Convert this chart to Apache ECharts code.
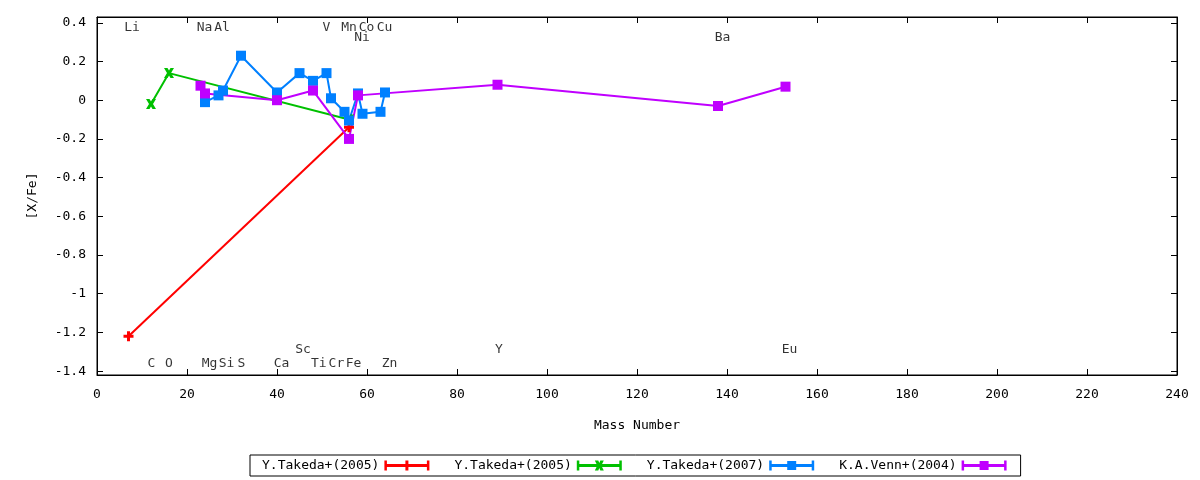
<!DOCTYPE html>
<html>
<head>
<meta charset="utf-8">
<script src="https://cdn.jsdelivr.net/npm/echarts@6/dist/echarts.min.js"></script>
<style>
    html, body { margin: 0; padding: 0; background: #fff; }
    #main { width: 1200px; height: 480px; }
</style>
</head>
<body>
<div id="main"></div>
<script>
// series values: [mass number, [X/Fe]]
var takeda2005a = [[7, -1.22], [56, -0.14]];
var takeda2005b = [[12, -0.02], [16, 0.14], [56, -0.10]];
var takeda2007 = [[24, -0.01], [27, 0.025], [28, 0.05], [32, 0.23], [40, 0.04], [45, 0.14],
    [48, 0.10], [51, 0.14], [52, 0.01], [55, -0.06], [56, -0.105], [58, 0.035],
    [59, -0.07], [63, -0.06], [64, 0.04]];
var venn2004 = [[23, 0.075], [24, 0.035], [40, 0.0], [48, 0.05], [56, -0.20], [58, 0.025],
    [89, 0.08], [138, -0.03], [153, 0.07]];

var seriesNames = ['Y.Takeda+(2005)', 'Y.Takeda+(2005)', 'Y.Takeda+(2007)', 'K.A.Venn+(2004)'];

// element labels
var elemNames = ['Li', 'Na', 'Al', 'V', 'Mn', 'Co', 'Cu', 'Ni', 'Ba',
    'C', 'O', 'Mg', 'Si', 'S', 'Ca', 'Ti', 'Cr', 'Fe', 'Zn', 'Sc', 'Y', 'Eu'];
var elemX = [7.8, 23.9, 27.8, 51.0, 56.0, 59.9, 63.9, 58.9, 139.0,
    12.1, 16.0, 25.0, 28.8, 32.1, 41.0, 49.3, 53.2, 57.0, 65.0, 45.8, 89.3, 153.9];
var elemY = [0.375, 0.375, 0.375, 0.375, 0.375, 0.375, 0.375, 0.323, 0.323,
    -1.361, -1.361, -1.361, -1.361, -1.361, -1.361, -1.361, -1.361, -1.361, -1.361, -1.288, -1.288, -1.288];

var yTicks = [-1.4, -1.2, -1.0, -0.8, -0.6, -0.4, -0.2, 0, 0.2, 0.4];

(function() {
    var font = 'DejaVu Sans Mono';
    var colors = ['#ff0000', '#00c000', '#0080ff', '#c000ff'];

    var plusSymbol = 'path://M3.5 0H6.5V10H3.5ZM0 3.5H10V6.5H0Z';
    var crossSymbol = 'path://M0 0H3.5L5 2.5L6.5 0H10L7 5L10 10H6.5L5 7.5L3.5 10H0L3 5Z';

    // legend samples: line with error bar caps and the marker
    var barPath = 'M0 3.5H45V6.5H0ZM0 0H2.5V10H0ZM42.5 0H45V10H42.5Z';
    var legendIcons = [
        'path://' + barPath + 'M21 0H24V10H21Z',
        'path://' + barPath + 'M18 0H21.5L22.5 2.5L23.5 0H27L24.5 5L27 10H23.5L22.5 7.5L21.5 10H18L20.5 5Z',
        'path://' + barPath + 'M18 0.5H27V9.5H18Z',
        'path://' + barPath + 'M18 0.5H27V9.5H18Z'
    ];
    var symbols = [plusSymbol, crossSymbol, 'rect', 'rect'];
    var datasets = [takeda2005a, takeda2005b, takeda2007, venn2004];

    var labelData = [];
    for (var i = 0; i < elemNames.length; i++) {
        labelData.push([elemX[i], elemY[i], elemNames[i]]);
    }

    var series = [];
    var legendData = [];
    for (var k = 0; k < datasets.length; k++) {
        // two entries share a name, so keep them apart with a suffix
        var id = seriesNames[k] + '#' + k;
        legendData.push({ name: id, icon: legendIcons[k] });
        series.push({
            name: id,
            type: 'line',
            data: datasets[k],
            symbol: symbols[k],
            symbolSize: 10,
            showAllSymbol: true,
            lineStyle: { color: colors[k], width: 2 },
            itemStyle: { color: colors[k] },
            animation: false
        });
    }
    series.push({
        name: 'labels',
        type: 'scatter',
        data: labelData,
        symbolSize: 1,
        itemStyle: { color: 'rgba(0,0,0,0)' },
        silent: true,
        label: {
            show: true,
            position: 'inside',
            formatter: function(p) { return p.value[2]; },
            color: '#000',
            fontFamily: font,
            fontSize: 13
        },
        animation: false
    });

    var tickFmt = function(v) {
        return String(Math.round(v * 10) / 10);
    };

    var dom = document.getElementById('main');
    var myChart = echarts.init(dom);
    var option = {
        backgroundColor: '#fff',
        textStyle: { fontFamily: font },
        grid: {
            left: 97,
            right: 23,
            top: 17,
            bottom: 105,
            show: true,
            borderColor: '#000',
            borderWidth: 1,
            backgroundColor: 'transparent'
        },
        legend: {
            data: legendData,
            left: 250,
            top: 455,
            align: 'right',
            itemWidth: 45,
            itemHeight: 10,
            itemGap: 25,
            padding: [4, 14, 4, 12],
            borderColor: '#000',
            borderWidth: 1,
            borderRadius: 0,
            selectedMode: false,
            formatter: function(name) { return name.split('#')[0]; },
            textStyle: { color: '#000', fontFamily: font, fontSize: 13 }
        },
        xAxis: [{
            type: 'value',
            min: 0,
            max: 240,
            interval: 20,
            name: 'Mass Number',
            nameLocation: 'middle',
            nameGap: 44,
            nameTextStyle: { color: '#000', fontFamily: font, fontSize: 13 },
            axisLine: { show: true, onZero: false, lineStyle: { color: '#000', width: 1 } },
            axisTick: { show: true, inside: true, length: 6, lineStyle: { color: '#000' } },
            axisLabel: { color: '#000', fontFamily: font, fontSize: 13, margin: 13 },
            splitLine: { show: false }
        }, {
            type: 'value',
            position: 'top',
            min: 0,
            max: 240,
            interval: 20,
            axisLine: { show: true, onZero: false, lineStyle: { color: '#000', width: 1 } },
            axisTick: { show: true, inside: true, length: 6, lineStyle: { color: '#000' } },
            axisLabel: { show: false },
            splitLine: { show: false }
        }],
        yAxis: [{
            type: 'value',
            min: -1.42,
            max: 0.43,
            name: '[X/Fe]',
            nameLocation: 'middle',
            nameRotate: 90,
            nameGap: 58,
            nameTextStyle: { color: '#000', fontFamily: font, fontSize: 13 },
            axisLine: { show: true, onZero: false, lineStyle: { color: '#000', width: 1 } },
            axisTick: { show: true, inside: true, length: 6, customValues: yTicks, lineStyle: { color: '#000' } },
            axisLabel: { color: '#000', fontFamily: font, fontSize: 13, margin: 11, customValues: yTicks, formatter: tickFmt },
            splitLine: { show: false }
        }, {
            type: 'value',
            position: 'right',
            min: -1.42,
            max: 0.43,
            axisLine: { show: true, onZero: false, lineStyle: { color: '#000', width: 1 } },
            axisTick: { show: true, inside: true, length: 6, customValues: yTicks, lineStyle: { color: '#000' } },
            axisLabel: { show: false, customValues: yTicks },
            splitLine: { show: false }
        }],
        series: series
    };
    myChart.setOption(option, true);
    window.onresize = function() {
        myChart.resize();
    };
})();
</script>
</body>
</html>
